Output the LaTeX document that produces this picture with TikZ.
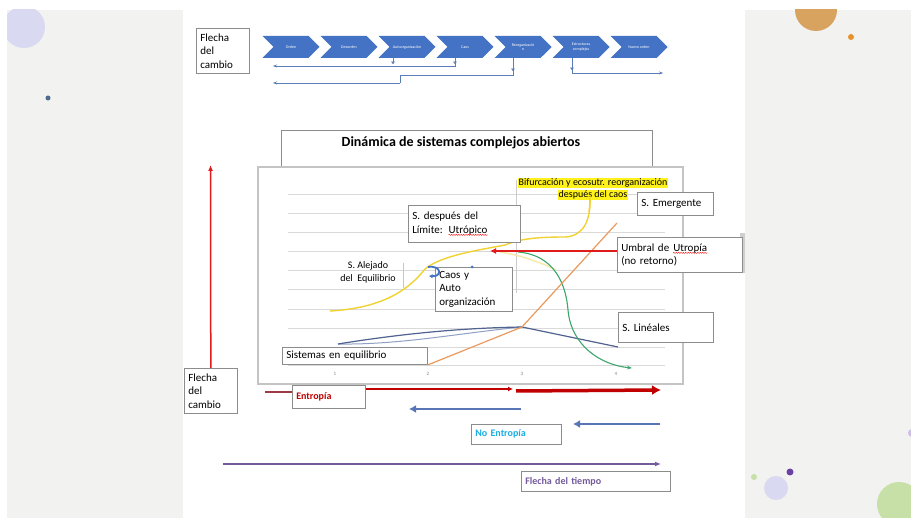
\documentclass[tikz,border=0pt]{standalone}
\usepackage{fontspec}
\setmainfont{Carlito}
\usepackage{xcolor}
\usepackage{tikz}
\usetikzlibrary{shapes,arrows,arrows.meta,positioning,calc,decorations.pathmorphing}

\definecolor{pagegrey}{HTML}{F2F2F0}
\definecolor{tabgrey}{HTML}{CFCFCF}
\definecolor{chevblue}{HTML}{4472C4}
\definecolor{linkblue}{HTML}{5B7DB8}
\definecolor{boxgrey}{HTML}{8C8C8C}
\definecolor{gridgrey}{HTML}{D9D9D9}
\definecolor{framegrey}{HTML}{C4C4C4}
\definecolor{entred}{HTML}{C00000}
\definecolor{brightred}{HTML}{E01B1B}
\definecolor{maroon}{HTML}{9E3A45}
\definecolor{arrowblue}{HTML}{5876B6}
\definecolor{noentcyan}{HTML}{1AAEE0}
\definecolor{timepurple}{HTML}{725A9C}
\definecolor{curveyellow}{HTML}{F0D232}
\definecolor{paleyellow}{HTML}{F7E9A8}
\definecolor{curveorange}{HTML}{EA9A5C}
\definecolor{curveslate}{HTML}{4F6290}
\definecolor{paleslate}{HTML}{8FA0C4}
\definecolor{curvegreen}{HTML}{3DA66A}
\definecolor{hlyellow}{HTML}{FFF21A}
\definecolor{lavender}{HTML}{D9D9F2}
\definecolor{tan}{HTML}{D7A35F}
\definecolor{dotorange}{HTML}{E8922E}
\definecolor{dotblue}{HTML}{4F6A8F}
\definecolor{dotpurple}{HTML}{6A42A3}
\definecolor{palegreen}{HTML}{C6E0A8}
\definecolor{palepurple}{HTML}{CDBDE8}

% red spell-check wave under a word
\newcommand{\spell}[1]{\tikz[baseline=(sw.base)]{\node[inner sep=0pt, minimum width=0pt, minimum height=0pt, text width={}, align=center, anchor=base, draw=none, fill=none] (sw) {#1}; \draw[red, line width=0.4pt, decorate, decoration={snake, amplitude=0.5pt, segment length=2.4pt}] ([yshift=-1.8pt]sw.base west) -- ([yshift=-1.8pt]sw.base east);}}

\begin{document}
\begin{tikzpicture}[
    x=1pt, y=-1pt,
    chevron/.style={signal, signal to=east, signal from=west, fill=chevblue, minimum width=57, minimum height=22, inner sep=0pt, text=white, font=\fontsize{4}{4.5}\selectfont, align=center},
    cbox/.style={draw=boxgrey, fill=white, line width=0.6pt, anchor=north west, align=left, inner sep=4pt, font=\fontsize{11}{13.5}\selectfont},
    link/.style={draw=linkblue, line width=0.5pt},
    tick/.style={draw=linkblue, line width=0.5pt, -{Triangle[length=2.5pt,width=3.5pt]}},
    gridline/.style={draw=gridgrey, line width=0.6pt},
    axislbl/.style={font=\fontsize{5}{6}\selectfont, text=gray},
    curve/.style={line width=1.4pt},
    bluearrow/.style={draw=arrowblue, line width=2.5pt, -{Latex[length=7pt,width=8pt]}}
]
\useasboundingbox (0,0) rectangle (911,518);

% Background and page
\fill[white] (0,0) rectangle (911,518);
\fill[pagegrey] (7,10) rectangle (911,518);
\fill[white] (183,0) rectangle (745,518);
\fill[tabgrey] (740,233) rectangle (745,273);

% Decoration dots
\begin{scope}
\clip (7,10) rectangle (911,518);
\fill[lavender] (24,27) circle (21);
\fill[dotblue] (48,98) circle (2.5);
\fill[tan] (816,10) circle (21);
\fill[dotorange] (851,37) circle (3);
\fill[dotpurple] (790,472) circle (3.5);
\fill[lavender] (776,488) circle (12);
\fill[palegreen] (754,477) circle (3);
\fill[palegreen] (899,504) circle (22);
\fill[palepurple] (912,433) circle (4);
\end{scope}

% Top: flecha del cambio with chevrons
\node[cbox, minimum width=53, minimum height=45, text width=45] (flechaA) at (196,28) {Flecha\\del\\cambio};
\node[chevron] (c1) at (291,47) {Orden};
\node[chevron] (c2) at (349,47) {Desorden};
\node[chevron] (c3) at (407,47) {Autoorganización};
\node[chevron] (c4) at (465,47) {Caos};
\node[chevron] (c5) at (523,47) {Reorganizació\\n};
\node[chevron] (c6) at (581,47) {Estructuras\\complejas};
\node[chevron] (c7) at (639,47) {Nuevo orden};

% Links under the chevrons
\coordinate (l1end) at (273,66);
\coordinate (l2bend) at (400,83);
\coordinate (l2end) at (273,83);
\coordinate (l3end) at (663,73);
\draw[link, -{Stealth[length=4pt]}] ([xshift=-10pt]c4.south) |- (l1end);
\draw[link] ([xshift=-10pt]c5.south) -- ++(0,17) -| (l2bend);
\draw[link, -{Stealth[length=4pt]}] (l2bend) -- (l2end);
\draw[link, -{Stealth[length=4pt]}] ([xshift=-9pt]c6.south) |- (l3end);
\draw[tick] ([xshift=-14pt]c3.south) -- ++(0,6);
\draw[tick] ([xshift=-10pt]c4.south) -- ++(0,6);
\draw[tick] ([xshift=-10pt]c5.south) -- ++(0,13);
\draw[tick] ([xshift=-9pt]c6.south) -- ++(0,12);

% Title box
\draw[boxgrey, line width=0.6pt] (281,185) -- (281,130) -- (652,130) -- (652,185);
\node[font=\bfseries\fontsize{14}{16}\selectfont] (title) at (461,143) {Dinámica de sistemas complejos abiertos};

% Chart area
\draw[framegrey, fill=white, line width=1.2pt] (258,167) rectangle (683,384);
\draw[gridline] (288,194) -- (665,194);
\draw[gridline] (288,213) -- (665,213);
\draw[gridline] (288,232) -- (665,232);
\draw[gridline] (288,251) -- (665,251);
\draw[gridline] (288,270) -- (665,270);
\draw[gridline] (288,289) -- (665,289);
\draw[gridline] (288,309) -- (665,309);
\draw[gridline] (288,328) -- (665,328);
\draw[gridline] (288,347) -- (665,347);
\draw[gridline] (288,365) -- (665,365);
\node[axislbl] at (335,374) {1};
\node[axislbl] at (428,374) {2};
\node[axislbl] at (522,374) {3};
\node[axislbl] at (616,374) {4};
\draw[gray!40, line width=0.5pt] (516,180) -- (516,293);
\draw[blue!25, line width=0.8pt] (403,263) -- (403,288);

% Curves
\coordinate (y0) at (330,311);
\coordinate (y1) at (425,269);
\coordinate (y2) at (505,245);
\coordinate (y3) at (590,196);
\coordinate (junc) at (522,327);
\coordinate (otop) at (617,223);
\coordinate (s0) at (338,344);
\coordinate (s1) at (618,347);
\coordinate (g0) at (518,252);
\coordinate (g1) at (568,310);
\coordinate (g2) at (632,368);
\draw[paleyellow, curve] (500,252) .. controls (520,255) and (540,262) .. (556,270);
\draw[curveyellow, curve] (y0) .. controls (385,308) and (410,288) .. (y1) .. controls (442,255) and (480,250) .. (y2) .. controls (518,240) and (530,237) .. (565,237) .. controls (584,236) and (591,220) .. (y3);
\draw[paleslate, line width=1pt] (s0) .. controls (400,345) and (460,333) .. (junc);
\draw[curveslate, line width=1.2pt] (s0) .. controls (400,334) and (460,328) .. (junc) -- (s1);
\draw[curvegreen, line width=1.1pt, -{Stealth[length=5pt]}] (g0) .. controls (555,255) and (566,285) .. (g1) .. controls (571,345) and (600,365) .. (g2);

% Text boxes in the chart
\node[cbox, minimum width=145, minimum height=17, text width=137] (equil) at (282,347) {Sistemas en equilibrio};
\draw[curveorange, line width=1.2pt] (equil.south east) -- (junc) -- (otop);
\node[cbox, minimum width=95, minimum height=30, text width=87] (lineales) at (618,312) {S. Linéales};
\node[cbox, minimum width=125, minimum height=35, text width=117] (umbral) at (617,237) {Umbral de \spell{Utropía}\\(no retorno)};
\node[cbox, minimum width=76, minimum height=23, text width=68] (emerg) at (637,192) {S. Emergente};
\node[cbox, minimum width=112, minimum height=37, text width=104] (despues) at (408,205) {S. después del\\Límite: \spell{Utrópico}};
\node[cbox, minimum width=77, minimum height=43, text width=69] (caos) at (435,267) {Caos y\\Auto\\organización};
\fill[chevblue] (472,267) circle (1.5);
\node[align=center, font=\fontsize{10}{13}\selectfont] (alejado) at (368,272) {S. Alejado\\del~ Equilibrio};
\node[fill=hlyellow, inner sep=0.5pt, font=\fontsize{10}{11}\selectfont] (bif1) at (593,183) {Bifurcación y ecosutr. reorganización};
\node[fill=hlyellow, inner sep=0.5pt, font=\fontsize{10}{11}\selectfont] (bif2) at (593,195) {después del caos};
\draw[curveyellow, curve] (589,212) .. controls (590,205) and (590,200) .. (y3);

% Red arrow from the umbral
\coordinate (redtip) at (490,251);
\draw[brightred, line width=1.8pt, -{Latex[length=6pt,width=6pt]}] (umbral.west |- redtip) -- (redtip);

% Blue turn arrow
\coordinate (ua) at (428,267);
\coordinate (ub) at (429,276);
\draw[chevblue, line width=1.8pt, -{Latex[length=3.5pt,width=4.5pt]}] (ua) .. controls (442,265) and (442,277) .. (ub);

% Bottom: flecha del cambio and arrows
\node[cbox, minimum width=53, minimum height=45, text width=45] (flechaB) at (184,368) {Flecha\\del\\cambio};
\coordinate (vtop) at (210.5,165);
\draw[brightred, line width=1.5pt, -{Latex[length=6pt,width=5pt]}] (flechaB.north) -- (vtop);

\node[cbox, minimum width=73, minimum height=23, text width=65, font=\bfseries\fontsize{10}{12}\selectfont, text=entred] (entropia) at (292,385) {Entropía};
\coordinate (entstart) at (265,392);
\coordinate (entmid) at (513,389);
\coordinate (entthick) at (516,391);
\coordinate (entend) at (661,390);
\draw[maroon, line width=1.6pt] (entstart) -- (entropia.west |- entstart);
\draw[entred, line width=1.3pt, -{Latex[length=5pt,width=5pt]}] (entropia.east |- entmid) -- (entmid);
\draw[entred, line width=3.5pt, -{Latex[length=9pt,width=10pt]}] (entthick) -- (entend);

\coordinate (ne1a) at (521,409);
\coordinate (ne1b) at (409,409);
\coordinate (ne2a) at (660,424);
\coordinate (ne2b) at (573,424);
\draw[bluearrow] (ne1a) -- (ne1b);
\draw[bluearrow] (ne2a) -- (ne2b);
\node[cbox, minimum width=90, minimum height=20, text width=82, font=\bfseries\fontsize{10}{12}\selectfont, text=noentcyan] (noentropia) at (471,424) {No Entropía};

\coordinate (tstart) at (223,464);
\coordinate (tend) at (661,464);
\draw[timepurple, line width=1.5pt, -{Latex[length=6pt,width=5pt]}] (tstart) -- (tend);
\node[cbox, minimum width=149, minimum height=20, text width=141, font=\bfseries\fontsize{10}{12}\selectfont, text=timepurple] (tiempo) at (521,471) {Flecha del tiempo};

\end{tikzpicture}
\end{document}
